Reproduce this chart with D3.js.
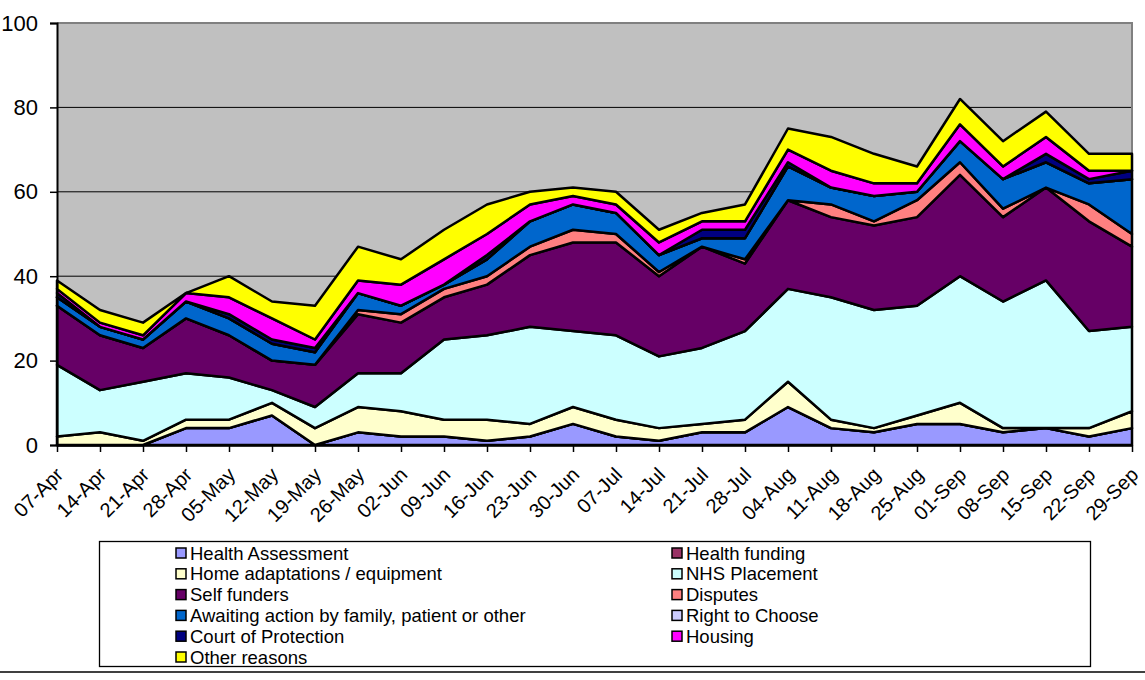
<!DOCTYPE html>
<html><head><meta charset="utf-8">
<script src="https://cdn.jsdelivr.net/npm/d3@7"></script>
<style>
body{margin:0;background:#fff;}
svg{display:block;font-family:Arial,"Liberation Sans",sans-serif;}
</style></head>
<body><svg id="c" width="1145" height="680"></svg>
<script>
const dates = ["07-Apr","14-Apr","21-Apr","28-Apr","05-May","12-May","19-May","26-May","02-Jun","09-Jun","16-Jun","23-Jun","30-Jun","07-Jul","14-Jul","21-Jul","28-Jul","04-Aug","11-Aug","18-Aug","25-Aug","01-Sep","08-Sep","15-Sep","22-Sep","29-Sep"];
const seriesNames = ["Health Assessment","Health funding","Home adaptations / equipment","NHS Placement","Self funders","Disputes","Awaiting action by family, patient or other","Right to Choose","Court of Protection","Housing","Other reasons"];
const seriesColors = ["#9999FF","#993366","#FFFFCC","#CCFFFF","#660066","#FF8080","#0066CC","#CCCCFF","#000080","#FF00FF","#FFFF00"];
const healthAssessment = [0,0,0,4,4,7,0,3,2,2,1,2,5,2,1,3,3,9,4,3,5,5,3,4,2,4];
const healthFunding    = [0,0,0,0,0,0,0,0,0,0,0,0,0,0,0,0,0,0,0,0,0,0,0,0,0,0];
const homeAdaptations  = [2,3,1,2,2,3,4,6,6,4,5,3,4,4,3,2,3,6,2,1,2,5,1,0,2,4];
const nhsPlacement     = [17,10,14,11,10,3,5,8,9,19,20,23,18,20,17,18,21,22,29,28,26,30,30,35,23,20];
const selfFunders      = [14,13,8,13,10,7,10,14,12,10,12,17,21,22,19,24,16,21,19,20,21,24,20,22,26,19];
const disputes         = [0,0,0,0,0,0,0,1,2,2,2,2,3,2,1,0,1,0,3,1,4,3,2,0,4,3];
const awaitingAction   = [2,2,2,4,4,4,3,4,2,1,4,6,6,5,4,2,5,8,4,6,2,5,7,6,5,13];
const rightToChoose    = [0,0,0,0,0,0,0,0,0,0,0,0,0,0,0,0,0,0,0,0,0,0,0,0,0,0];
const courtOfProtection= [1,0,0,0,1,1,1,0,0,0,1,0,0,0,0,2,2,1,0,0,0,0,0,2,1,2];
const housing          = [1,1,1,2,4,5,2,3,5,6,5,4,2,2,3,2,2,3,4,3,2,4,3,4,2,0];
const otherReasons     = [2,3,3,0,5,4,8,8,6,7,7,3,2,3,3,2,4,5,8,7,4,6,6,6,4,4];
const yTicks = [0,20,40,60,80,100];

const seriesValues = [healthAssessment,healthFunding,homeAdaptations,nhsPlacement,selfFunders,disputes,awaitingAction,rightToChoose,courtOfProtection,housing,otherReasons];
const table = dates.map((d,i)=>{const r={date:d}; seriesNames.forEach((n,k)=>r[n]=seriesValues[k][i]); return r;});

const svg = d3.select("#c");
const L=57,R=1132,T=23,B=445;
const x = d3.scalePoint().domain(dates).range([L,R]);
const y = d3.scaleLinear().domain([0,100]).range([B,T]);

// plot background
svg.append("rect").attr("x",L).attr("y",T).attr("width",R-L).attr("height",B-T).attr("fill","#C0C0C0");
// gridlines
svg.append("g").selectAll("line").data(yTicks.filter(t=>t>0&&t<100)).join("line")
  .attr("x1",L).attr("x2",R).attr("y1",d=>y(d)).attr("y2",d=>y(d)).attr("stroke","#000").attr("stroke-width",1);
// border top/right
svg.append("path").attr("d",`M${L},${T}H${R}V${B}`).attr("fill","none").attr("stroke","#808080").attr("stroke-width",2);

const stack = d3.stack().keys(seriesNames)(table);
const area = d3.area().x(d=>x(d.data.date)).y0(d=>y(d[0])).y1(d=>y(d[1]));
svg.append("g").selectAll("path").data(stack).join("path")
  .attr("d",area).attr("fill",(d,i)=>seriesColors[i]).attr("stroke","#000").attr("stroke-width",2.5).attr("stroke-linejoin","round");

// axes
const yAxis = d3.axisLeft(y).tickValues(yTicks).tickSize(7).tickPadding(12).tickFormat(d3.format("d"));
const gy = svg.append("g").attr("transform",`translate(${L},0)`).call(yAxis);
gy.select(".domain").attr("stroke","#000").attr("stroke-width",2);
gy.selectAll(".tick line").attr("stroke","#000").attr("stroke-width",1.5);
gy.selectAll(".tick text").attr("font-size",22).attr("fill","#000").attr("font-family","Arial, Liberation Sans, sans-serif");

const xAxis = d3.axisBottom(x).tickSize(7).tickSizeOuter(0);
const gx = svg.append("g").attr("transform",`translate(0,${B})`).call(xAxis);
gx.select(".domain").attr("stroke","#000").attr("stroke-width",2.5);
gx.selectAll(".tick line").attr("stroke","#000").attr("stroke-width",1.5);
gx.selectAll(".tick text").attr("font-size",20).attr("fill","#000").attr("font-family","Arial, Liberation Sans, sans-serif")
  .attr("text-anchor","end").attr("y",0).attr("dy",0)
  .attr("transform","translate(7,31) rotate(-45)");

// legend
svg.append("rect").attr("x",99.5).attr("y",541.5).attr("width",991).attr("height",125).attr("fill","#fff").attr("stroke","#000").attr("stroke-width",1.3);
const lg = svg.append("g");
seriesNames.forEach((n,i)=>{
  const col=i%2,row=Math.floor(i/2);
  const sx = col===0?176:672, cy = 553+row*20.8;
  lg.append("rect").attr("x",sx).attr("y",cy-5).attr("width",10).attr("height",10).attr("fill",seriesColors[i]).attr("stroke","#000").attr("stroke-width",1.5);
  lg.append("text").attr("x",sx+14).attr("y",cy).attr("dy","0.36em").attr("font-size",18.5).text(n);
});
// chart bottom border
svg.append("line").attr("x1",0).attr("x2",1145).attr("y1",672).attr("y2",672).attr("stroke","#000").attr("stroke-width",1.5);
</script></body></html>
